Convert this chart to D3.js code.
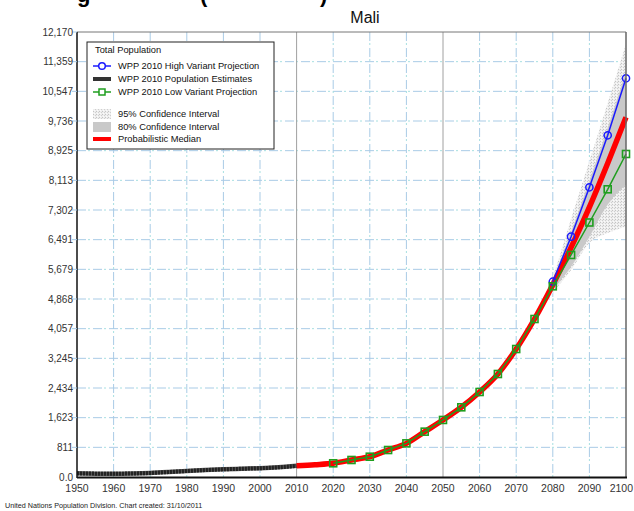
<!DOCTYPE html>
<html>
<head>
<meta charset="utf-8">
<script src="https://cdn.jsdelivr.net/npm/d3@7"></script>
<style>
  body { margin: 0; background: #fff; }
  text { font-family: "Liberation Sans", Arial, sans-serif; }
</style>
</head>
<body>
<svg id="chart" width="634" height="511"></svg>
<script>
// values (thousands)
const estYears = [1950, 1955, 1960, 1965, 1970, 1975, 1980, 1985, 1990, 1995, 2000, 2005, 2010];
const estValues = [100, 92, 90, 96, 110, 135, 165, 190, 210, 225, 240, 265, 305];

const medYears = [2010, 2015, 2020, 2025, 2030, 2035, 2040, 2045, 2050, 2055, 2060, 2065, 2070, 2075, 2080, 2085, 2090, 2095, 2100];
const medValues = [305, 335, 375, 465, 555, 738, 920, 1240, 1560, 1906, 2325, 2817, 3500, 4321, 5260, 6280, 7380, 8580, 9838];

const lowYears = [2020, 2025, 2030, 2035, 2040, 2045, 2050, 2055, 2060, 2065, 2070, 2075, 2080, 2085, 2090, 2095, 2100];
const lowValues = [375, 465, 555, 738, 920, 1240, 1560, 1906, 2325, 2817, 3500, 4321, 5215, 6072, 6960, 7868, 8834];

const highYears = [2080, 2085, 2090, 2095, 2100];
const highValues = [5341, 6572, 7923, 9345, 10904];

const ciYears = [2075, 2080, 2085, 2090, 2095, 2100];
const lo95 = [4290, 5030, 5660, 6400, 6670, 6850];
const hi95 = [4360, 5480, 7060, 8640, 10230, 11850];
const lo80 = [4300, 5100, 5750, 6570, 7450, 7990];
const hi80 = [4345, 5420, 6700, 8100, 9550, 11100];

const yMax = 12170;
const yTickLabels = ["0.0", "811", "1,623", "2,434", "3,245", "4,057", "4,868", "5,679",
  "6,491", "7,302", "8,113", "8,925", "9,736", "10,547", "11,359", "12,170"];
const xTicks = [1950, 1960, 1970, 1980, 1990, 2000, 2010, 2020, 2030, 2040, 2050, 2060, 2070, 2080, 2090, 2100];
const solidYears = [2010, 2050];

const legendItems = ["WPP 2010 High Variant Projection", "WPP 2010 Population Estimates",
  "WPP 2010 Low Variant Projection", "95% Confidence Interval", "80% Confidence Interval", "Probabilistic Median"];

const svg = d3.select("#chart");
const pLeft = 77, pRight = 626, pTop = 32, pBottom = 477;

const x = d3.scaleLinear().domain([1950, 2100]).range([pLeft, pRight]);
const y = d3.scaleLinear().domain([0, yMax]).range([pBottom, pTop]);
const yTicks = yTickLabels.map((d, i) => yMax / 15 * i);

// speckle pattern for the 95% band
const defs = svg.append("defs");
const pat = defs.append("pattern").attr("id", "speck")
    .attr("width", 3).attr("height", 3).attr("patternUnits", "userSpaceOnUse");
pat.append("rect").attr("width", 3).attr("height", 3).attr("fill", "#eeeeee");
pat.append("rect").attr("x", 0).attr("y", 0).attr("width", 1).attr("height", 1).attr("fill", "#c4c4c4");
pat.append("rect").attr("x", 2).attr("y", 1).attr("width", 1).attr("height", 1).attr("fill", "#cfcfcf");
pat.append("rect").attr("x", 1).attr("y", 2).attr("width", 1).attr("height", 1).attr("fill", "#fafafa");

// clipped big title at top
const big = svg.append("g").attr("font-weight", "bold").attr("font-size", 22).attr("fill", "#000");
big.append("text").attr("x", 77).attr("y", 2).text("g");
big.append("text").attr("x", 200).attr("y", 2).text("(");
big.append("text").attr("x", 320).attr("y", 2).text(")");

svg.append("text").attr("x", 365).attr("y", 23).attr("text-anchor", "middle")
    .attr("font-size", 16).attr("fill", "#111").text("Mali");

// grid
const grid = svg.append("g");
yTicks.slice(1, -1).forEach(v => {
    grid.append("line").attr("x1", pLeft).attr("x2", pRight).attr("y1", y(v)).attr("y2", y(v))
        .attr("stroke", "#a9cbe6").attr("stroke-dasharray", "9,7");
    grid.append("line").attr("x1", pLeft).attr("x2", pRight).attr("y1", y(v)).attr("y2", y(v))
        .attr("stroke", "#a6e0e0").attr("stroke-dasharray", "2,14").attr("stroke-dashoffset", -11);
});
xTicks.slice(1, -1).forEach(yr => {
    if (solidYears.includes(yr)) {
        grid.append("line").attr("x1", x(yr)).attr("x2", x(yr)).attr("y1", pTop).attr("y2", pBottom)
            .attr("stroke", "#a0a0a0");
    } else {
        grid.append("line").attr("x1", x(yr)).attr("x2", x(yr)).attr("y1", pTop).attr("y2", pBottom)
            .attr("stroke", "#a9cbe6").attr("stroke-dasharray", "9,7");
        grid.append("line").attr("x1", x(yr)).attr("x2", x(yr)).attr("y1", pTop).attr("y2", pBottom)
            .attr("stroke", "#a6e0e0").attr("stroke-dasharray", "2,14").attr("stroke-dashoffset", -11);
    }
});

// confidence bands
const ci = ciYears.map((yr, i) => ({yr: yr, lo95: lo95[i], hi95: hi95[i], lo80: lo80[i], hi80: hi80[i]}));
svg.append("path").datum(ci)
    .attr("d", d3.area().x(d => x(d.yr)).y0(d => y(d.lo95)).y1(d => y(d.hi95)).curve(d3.curveMonotoneX))
    .attr("fill", "url(#speck)");
svg.append("path").datum(ci)
    .attr("d", d3.area().x(d => x(d.yr)).y0(d => y(d.lo80)).y1(d => y(d.hi80)).curve(d3.curveMonotoneX))
    .attr("fill", "#c9c9c9");

const pts = (xs, vs) => xs.map((yr, i) => [yr, vs[i]]);
const smooth = d3.line().x(d => x(d[0])).y(d => y(d[1])).curve(d3.curveMonotoneX);
const straight = d3.line().x(d => x(d[0])).y(d => y(d[1]));

// estimates
svg.append("path").datum(pts(estYears, estValues)).attr("d", smooth)
    .attr("fill", "none").attr("stroke", "#555").attr("stroke-width", 4.5);
svg.append("path").datum(pts(estYears, estValues)).attr("d", smooth)
    .attr("fill", "none").attr("stroke", "#222").attr("stroke-width", 4).attr("stroke-dasharray", "2,1");

// median
svg.append("path").datum(pts(medYears, medValues)).attr("d", smooth)
    .attr("fill", "none").attr("stroke", "#ff0000").attr("stroke-width", 5.5);

// high variant
svg.append("path").datum(pts(highYears, highValues)).attr("d", straight)
    .attr("fill", "none").attr("stroke", "#1a1aff").attr("stroke-width", 1.5);
svg.append("g").selectAll("circle").data(pts(highYears, highValues)).join("circle")
    .attr("cx", d => x(d[0])).attr("cy", d => y(d[1])).attr("r", 3.6)
    .attr("fill", "none").attr("stroke", "#1a1aff").attr("stroke-width", 1.5);

// low variant
svg.append("path").datum(pts(lowYears, lowValues)).attr("d", straight)
    .attr("fill", "none").attr("stroke", "#1f9e1f").attr("stroke-width", 1.5);
svg.append("g").selectAll("rect").data(pts(lowYears, lowValues)).join("rect")
    .attr("x", d => x(d[0]) - 3.5).attr("y", d => y(d[1]) - 3.5).attr("width", 7).attr("height", 7)
    .attr("fill", "none").attr("stroke", "#1f9e1f").attr("stroke-width", 1.6);

// frame
svg.append("line").attr("x1", pLeft).attr("x2", pRight).attr("y1", pTop).attr("y2", pTop).attr("stroke", "#777");
svg.append("line").attr("x1", pRight).attr("x2", pRight).attr("y1", pTop).attr("y2", pBottom).attr("stroke", "#666").attr("stroke-width", 1.5);
svg.append("line").attr("x1", pLeft).attr("x2", pLeft).attr("y1", pTop).attr("y2", pBottom + 1).attr("stroke", "#111").attr("stroke-width", 1.5);
svg.append("line").attr("x1", pLeft).attr("x2", pRight + 1).attr("y1", pBottom + 0.5).attr("y2", pBottom + 0.5).attr("stroke", "#111").attr("stroke-width", 2);

// y axis labels
const yAx = svg.append("g");
yTicks.forEach((v, i) => {
    if (i > 0) yAx.append("line").attr("x1", pLeft - 5).attr("x2", pLeft).attr("y1", y(v)).attr("y2", y(v)).attr("stroke", "#a9cbe6");
    yAx.append("text").attr("x", pLeft - 4).attr("y", y(v) + 3.5).attr("text-anchor", "end")
        .attr("font-size", 10).attr("fill", "#333").text(yTickLabels[i]);
});
// x axis labels (last one kept inside the page)
svg.append("g").selectAll("text").data(xTicks).join("text")
    .attr("x", d => x(d)).attr("y", pBottom + 15).attr("text-anchor", "middle")
    .attr("font-size", 10.5).attr("fill", "#333").text(d => d)
    .each(function () {
        const w = this.getComputedTextLength();
        const cx = +this.getAttribute("x");
        if (cx + w / 2 > 633) this.setAttribute("x", 633 - w / 2);
    });

svg.append("text").attr("x", 5).attr("y", 508).attr("font-size", 7.2).attr("fill", "#222")
    .text("United Nations Population Division. Chart created: 31/10/2011");

// legend
const lg = svg.append("g").attr("transform", "translate(87,42)");
lg.append("rect").attr("width", 187).attr("height", 107).attr("fill", "#fff").attr("stroke", "#222");
lg.append("text").attr("x", 8).attr("y", 11).attr("font-size", 9.3).attr("fill", "#111").text("Total Population");
const rowY = [24, 37, 50, 72, 85, 97];
legendItems.forEach((t, i) => {
    lg.append("text").attr("x", 31).attr("y", rowY[i] + 3).attr("font-size", 9.3).attr("fill", "#111").text(t);
});
lg.append("line").attr("x1", 6).attr("x2", 24).attr("y1", rowY[0]).attr("y2", rowY[0]).attr("stroke", "#1a1aff").attr("stroke-width", 1.5);
lg.append("circle").attr("cx", 15).attr("cy", rowY[0]).attr("r", 3.3).attr("fill", "#fff").attr("stroke", "#1a1aff").attr("stroke-width", 1.5);
lg.append("line").attr("x1", 6).attr("x2", 24).attr("y1", rowY[1]).attr("y2", rowY[1]).attr("stroke", "#333").attr("stroke-width", 4);
lg.append("line").attr("x1", 6).attr("x2", 24).attr("y1", rowY[2]).attr("y2", rowY[2]).attr("stroke", "#1f9e1f").attr("stroke-width", 1.5);
lg.append("rect").attr("x", 12).attr("y", rowY[2] - 3).attr("width", 6).attr("height", 6).attr("fill", "#fff").attr("stroke", "#1f9e1f").attr("stroke-width", 1.5);
lg.append("rect").attr("x", 6).attr("y", rowY[3] - 5).attr("width", 18).attr("height", 10).attr("fill", "url(#speck)");
lg.append("rect").attr("x", 6).attr("y", rowY[4] - 5).attr("width", 18).attr("height", 10).attr("fill", "#c9c9c9");
lg.append("line").attr("x1", 6).attr("x2", 24).attr("y1", rowY[5]).attr("y2", rowY[5]).attr("stroke", "#ff0000").attr("stroke-width", 4);
</script>
</body>
</html>
